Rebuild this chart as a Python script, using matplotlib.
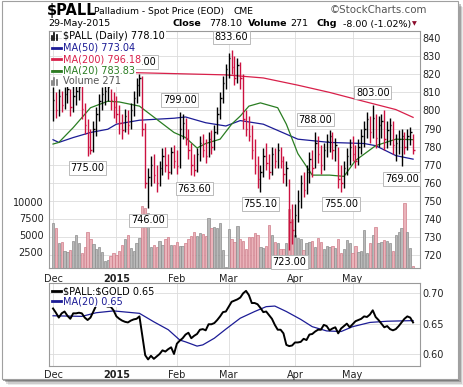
import matplotlib
matplotlib.use("Agg")
import matplotlib.pyplot as plt
from matplotlib.patches import Rectangle
from matplotlib.lines import Line2D

# daily sessions, 1-Dec-2014 .. 29-May-2015
highs = [813, 810, 812, 811, 813, 815, 812, 814, 815, 816,
         814, 804, 795, 790, 794, 802, 809, 813, 814, 816,
         812, 810, 808, 803, 798, 801, 800, 804, 811, 818,
         820, 819, 793, 768, 775, 776, 770, 772, 779, 780,
         776, 780, 781, 778, 799, 798, 796, 790, 782, 776,
         779, 786, 787, 784, 788, 789, 792, 802, 810, 819,
         826, 832, 833.6, 830, 829, 827, 820, 800, 797, 792,
         784, 775, 770, 779, 782, 776, 780, 779, 782, 780,
         775, 772, 762, 748, 748, 756, 764, 766, 770, 777,
         778, 788, 786, 781, 782, 787, 789, 788, 785, 780,
         770, 772, 779, 784, 786, 781, 784, 790, 794, 799,
         797, 803, 798, 797, 798, 800, 794, 796, 794, 787,
         789, 790, 788, 790, 791, 787]
lows = [794, 796, 797, 799, 801, 804, 797, 799, 803, 806,
        795, 787, 775, 776, 777, 786, 794, 800, 803, 805,
        800, 796, 793, 787, 784, 788, 787, 790, 797, 804,
        808, 786, 757, 746, 758, 760, 755, 758, 764, 766,
        762, 765, 768, 765, 768, 784, 781, 773, 764, 763.6,
        766, 772, 774, 771, 774, 776, 778, 787, 795, 804,
        812, 818, 820, 814, 815, 812, 790, 786, 783, 773,
        765, 757, 755.1, 763, 767, 762, 764, 768, 768, 768,
        760, 758, 723, 726, 730, 738, 746, 752, 754, 760,
        763, 768, 771, 765, 767, 774, 777, 773, 772, 757,
        755, 757, 764, 770, 772, 768, 770, 776, 780, 785,
        782, 785, 779, 780, 785, 778, 779, 781, 776, 772,
        776, 769, 776, 778, 781, 776]
closes = [806, 800, 808, 803, 809, 812, 802, 808, 811, 813,
          801, 792, 780, 778, 790, 798, 805, 809, 811, 813,
          806, 802, 798, 793, 789, 797, 792, 800, 807, 814,
          818, 790, 760, 763, 770, 764, 760, 768, 775, 770,
          766, 777, 772, 769, 790, 793, 785, 778, 770, 767,
          776, 782, 778, 775, 784, 780, 788, 798, 807, 815,
          823, 829, 824, 818, 825, 818, 795, 790, 786, 778,
          770, 762, 766, 775, 771, 766, 776, 772, 778, 772,
          765, 768, 738, 734, 742, 750, 760, 756, 766, 773,
          768, 782, 776, 770, 778, 783, 786, 778, 781, 762,
          760, 768, 775, 780, 776, 772, 780, 786, 790, 795,
          788, 796, 785, 792, 794, 784, 789, 792, 781, 782,
          784, 786, 780, 786, 788, 778.1]
volume = [6750, 6000, 3850, 3950, 2600, 2500, 2750, 4100, 5000, 3750,
          2250, 3250, 5400, 4350, 3650, 2850, 3150, 2500, 1150, 1250,
          1850, 2300, 2000, 2650, 3450, 4350, 5000, 3000, 2650, 3850,
          4550, 9350, 9000, 8350, 3250, 3500, 3250, 4100, 3500, 4350,
          4650, 3500, 3500, 3950, 3350, 3350, 3850, 4350, 4850, 5400,
          4850, 5250, 5100, 4900, 7500, 6000, 6150, 6000, 6750, 2750,
          250, 5850, 4350, 4000,
          6350, 4350, 4150, 2900, 4650, 4650, 5350, 5000, 3150, 3000,
          3400, 6500, 5000, 3900, 3850, 2850, 2850, 3750, 8850, 7350,
          5000, 4500, 4350, 2750, 3850, 4000, 4100, 3250, 4500, 4000,
          2900, 3350, 3250, 3350, 3000, 4400, 2350, 2850, 4250, 3750,
          2250, 3400, 2500, 2650, 5750, 2350, 3750, 5000, 6150, 3750,
          4000, 4250, 4150, 3850, 2650, 5000, 5500, 6000, 9850, 5400,
          3000, 350]

# moving averages (session, value)
ma50_days = [0, 2, 7, 13, 19, 22, 30, 42, 46, 53, 60, 65, 73, 85, 96, 108, 112, 119, 125]
ma50_vals = [783.8, 782.3, 785, 787.8, 789.6, 792.4, 794.6, 795.7, 796.4, 793.2,
             791.4, 794.4, 792.4, 784.1, 782.3, 781.7, 780.5, 775, 773.04]
ma200_days = [0, 26, 37, 60, 73, 85, 96, 108, 119, 125]
ma200_vals = [822, 821, 820.6, 819.7, 818, 814, 810, 805, 800.5, 796.18]
ma20_days = [0, 2, 7, 13, 19, 23, 30, 36, 42, 46, 50, 53, 58, 62, 65, 68, 72,
             78, 81, 85, 90, 96, 101, 105, 112, 119, 125]
ma20_vals = [781.4, 782.3, 790.5, 801.5, 805.1, 804.7, 802.4, 795.1, 787.8, 785,
             779.2, 781.7, 784.1, 792.4, 796.9, 802.4, 804.2, 801.5, 792.4, 776.1,
             764.2, 764.2, 763.5, 772.3, 780.5, 784.1, 783.83]

# $PALL:$GOLD ratio, one value per session
ratio = [0.675, 0.668, 0.660, 0.667, 0.670, 0.663, 0.658, 0.667, 0.667, 0.668,
         0.667, 0.660, 0.656, 0.660, 0.670, 0.680, 0.685, 0.683, 0.680, 0.678,
         0.678, 0.672, 0.662, 0.658, 0.655, 0.653, 0.652, 0.655, 0.657, 0.658,
         0.662, 0.630, 0.598, 0.591, 0.597, 0.592, 0.596, 0.600, 0.606, 0.604,
         0.608, 0.611, 0.600, 0.617, 0.622, 0.626, 0.632, 0.635, 0.626, 0.630,
         0.633, 0.640, 0.641, 0.639, 0.649, 0.649, 0.651, 0.656, 0.662, 0.669,
         0.670, 0.678, 0.686, 0.688, 0.690, 0.693, 0.700, 0.704, 0.697, 0.684,
         0.684, 0.682, 0.676, 0.669, 0.670, 0.664, 0.658, 0.648, 0.640, 0.640,
         0.634, 0.615, 0.613, 0.614, 0.619, 0.619, 0.620, 0.625, 0.623, 0.632,
         0.633, 0.637, 0.640, 0.640, 0.648, 0.646, 0.639, 0.642, 0.644, 0.634,
         0.642, 0.646, 0.650, 0.644, 0.649, 0.654, 0.656, 0.658, 0.662, 0.661,
         0.665, 0.672, 0.661, 0.656, 0.650, 0.644, 0.646, 0.641, 0.639, 0.641,
         0.646, 0.652, 0.658, 0.662, 0.660, 0.652]
ratio_ma_days = [0, 10, 15, 21, 30, 35, 40, 44, 46, 50, 52, 56, 60, 65, 70, 74, 77,
                 81, 86, 90, 95, 100, 104, 110, 116, 125]
ratio_ma_vals = [0.663, 0.662, 0.668, 0.671, 0.667, 0.653, 0.640, 0.623, 0.620, 0.613,
                 0.615, 0.626, 0.641, 0.659, 0.670, 0.678, 0.679, 0.670, 0.657, 0.645,
                 0.638, 0.637, 0.645, 0.652, 0.654, 0.655]

month_starts = [0, 22, 43, 61, 84, 104]
month_labels = ["Dec", "2015", "Feb", "Mar", "Apr", "May"]
high_marks = [30, 44, 62, 91, 111]
low_marks = [12, 33, 49, 72, 82, 100, 121]

RED = "#cc1140"
NAVY = "#1c1c96"
GREEN = "#2a7d22"
CRIMSON = "#d8204a"
GRID = "#dcdcdc"
EDGE = "#9a9a9a"

W, H = 464, 387
VOL_BASE = 712.6
VOL_SCALE = 0.003688   # price units per share of volume


def fx(x):
    return x / W


def fy(y):
    return 1 - y / H


def style_axes(ax):
    for s in ax.spines.values():
        s.set_color(EDGE)
        s.set_linewidth(0.8)
    ax.yaxis.tick_right()
    ax.tick_params(length=0, labelsize=7, colors="#222222", pad=2)
    ax.set_xticks(month_starts)
    ax.set_xticklabels(month_labels)
    ax.get_xticklabels()[1].set_fontweight("bold")
    ax.grid(color=GRID, linewidth=0.6)
    ax.set_axisbelow(True)
    ax.set_xlim(-1.4, 127.4)


def label(x, y, s, **kw):
    kw.setdefault("fontsize", 7)
    kw.setdefault("va", "center")
    return fig.text(fx(x), fy(y), s, parse_math=False, **kw)


fig = plt.figure(figsize=(W / 100, H / 100), dpi=100)

# page frame with a drop shadow, kept behind the axes
for i, a in enumerate([0.12, 0.2, 0.35, 0.5]):
    fig.patches.append(Rectangle((fx(2 + 6 - i * 1.5), fy(379 + 6 - i * 1.5)), fx(456), 378 / H,
                                 transform=fig.transFigure, fc="#555555", ec="none", alpha=a,
                                 zorder=-3))
fig.patches.append(Rectangle((fx(2), fy(379)), fx(456), 378 / H, transform=fig.transFigure,
                             fc="white", ec="#a0a0a0", lw=0.8, zorder=-2))

ax = fig.add_axes([fx(49), fy(268.3), fx(420 - 49), (268.3 - 31) / H])
style_axes(ax)
ax.set_ylim(VOL_BASE, 844)
ax.set_yticks(range(720, 841, 10))
ax.tick_params(axis="x", pad=4)

days = list(range(len(closes)))
down = [i > 0 and closes[i] < closes[i - 1] for i in days]
bar_cols = [RED if d else "black" for d in down]

vol_h = [v * VOL_SCALE for v in volume]
ax.bar(days, vol_h, bottom=VOL_BASE, width=0.8,
       color=["#eab3ba" if d else "#b9b9b9" for d in down],
       edgecolor=["#cf7d8a" if d else "#8c8c8c" for d in down], linewidth=0.5, zorder=1)

ax.plot(ma200_days, ma200_vals, color=CRIMSON, lw=0.9, zorder=2)
ax.plot(ma50_days, ma50_vals, color=NAVY, lw=0.9, zorder=2)
ax.plot(ma20_days, ma20_vals, color=GREEN, lw=0.9, zorder=2)

ax.vlines(days, lows, highs, colors=bar_cols, lw=1.0, zorder=3)
ax.hlines(closes, days, [d + 0.5 for d in days], colors=bar_cols, lw=1.0, zorder=3)

box = dict(boxstyle="square,pad=0.18", fc="white", ec="#b0b0b0", lw=0.6)
for i in high_marks:
    ax.annotate(f"{highs[i]:.2f}", xy=(i, highs[i]), xytext=(0, 9), textcoords="offset points",
                ha="center", va="center", fontsize=7, bbox=box, zorder=6, annotation_clip=False)
for i in low_marks:
    ax.annotate(f"{lows[i]:.2f}", xy=(i, lows[i]), xytext=(0, -9), textcoords="offset points",
                ha="center", va="center", fontsize=7, bbox=box, zorder=6, annotation_clip=False)

vol_ax = ax.secondary_yaxis("left", functions=(lambda p: (p - VOL_BASE) / VOL_SCALE,
                                                lambda v: v * VOL_SCALE + VOL_BASE))
vol_ax.set_yticks([2500, 5000, 7500, 10000])
vol_ax.tick_params(length=0, labelsize=7, colors="#222222", pad=4)
vol_ax.spines["left"].set_visible(False)

# ratio panel
ax2 = fig.add_axes([fx(49), fy(366), fx(420 - 49), (366 - 283) / H])
style_axes(ax2)
ax2.set_ylim(0.5802, 0.717)
ax2.set_yticks([0.60, 0.65, 0.70])
ax2.set_yticklabels(["0.60", "0.65", "0.70"])
ax2.tick_params(axis="x", pad=3)
ax2.plot(ratio_ma_days, ratio_ma_vals, color=NAVY, lw=0.9, zorder=2)
ax2.plot(days, ratio, color="black", lw=1.4, zorder=3)

# header
label(47, 10, "$PALL", fontsize=10.5, fontweight="bold")
label(94, 11, "Palladium - Spot Price (EOD)", fontsize=6.6)
label(234, 11, "CME", fontsize=6.6)
label(330, 10, "\u00a9StockCharts.com", fontsize=7.4, color="#555555")
label(48, 24, "29-May-2015", fontsize=6.8)
head = [(173, "Close", True), (209, "778.10", False), (248, "Volume", True),
        (290, "271", False), (317, "Chg", True), (343, "-8.00 (-1.02%)", False)]
for x, s, b in head:
    label(x, 24, s, fontsize=6.8, fontweight="bold" if b else "normal")
label(412, 24, "\u25bc", fontsize=4.5, color="#8b0a2a")

# legends
bg = dict(fc="white", ec="none", pad=0.6)
legend = [(36, "$PALL (Daily) 778.10", "black"), (47.5, "MA(50) 773.04", NAVY),
          (59, "MA(200) 796.18", CRIMSON), (70.5, "MA(20) 783.83", GREEN),
          (81, "Volume 271", "#555555")]
for y, s, c in legend:
    label(63, y, s, color=c, bbox=bg, zorder=5)
for y, c in [(47.5, NAVY), (59, CRIMSON), (70.5, GREEN)]:
    fig.add_artist(Line2D([fx(52), fx(61)], [fy(y), fy(y)], color=c, lw=2, zorder=6))
for y, c in [(36, "black"), (81, "#777777")]:
    for k, h in enumerate([4, 7, 5]):
        fig.add_artist(Line2D([fx(52 + 2.5 * k)] * 2, [fy(y + 3.5), fy(y + 3.5 - h)],
                              color=c, lw=1.2, zorder=6))

for y, s, c in [(291, "$PALL:$GOLD 0.65", "black"), (301, "MA(20) 0.65", NAVY)]:
    label(63, y, s, color=c, bbox=bg, zorder=5)
    fig.add_artist(Line2D([fx(52), fx(61)], [fy(y), fy(y)], color=c, lw=2, zorder=6))

fig.savefig("out.png", dpi=100)
